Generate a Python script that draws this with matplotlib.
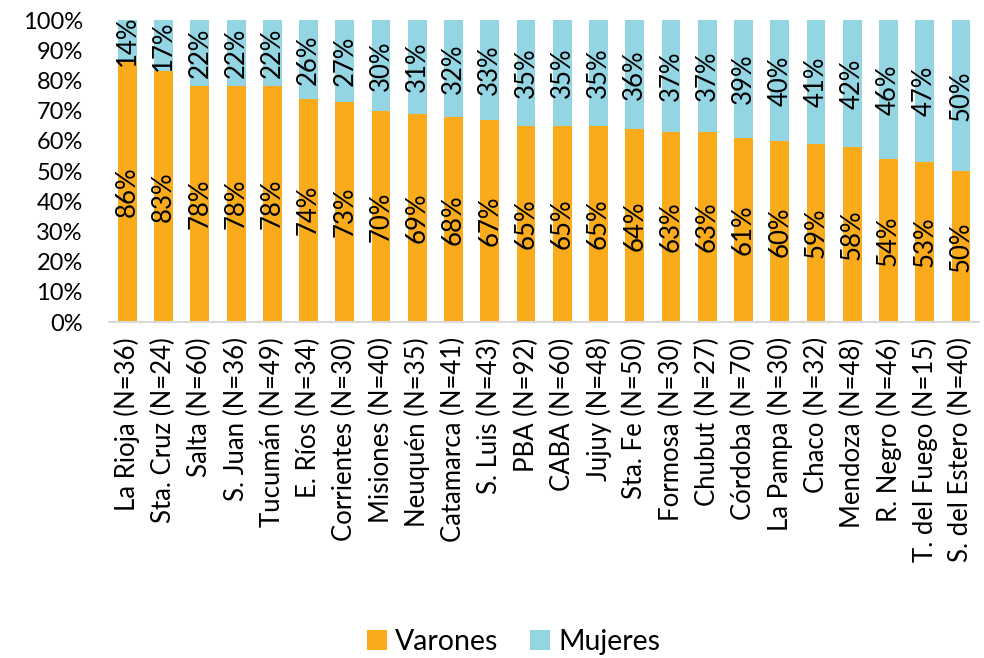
import matplotlib.pyplot as plt
from matplotlib.ticker import PercentFormatter

provincias = ["La Rioja (N=36)", "Sta. Cruz (N=24)", "Salta (N=60)", "S. Juan (N=36)",
              "Tucumán (N=49)", "E. Ríos (N=34)", "Corrientes (N=30)", "Misiones (N=40)",
              "Neuquén (N=35)", "Catamarca (N=41)", "S. Luis (N=43)", "PBA (N=92)",
              "CABA (N=60)", "Jujuy (N=48)", "Sta. Fe (N=50)", "Formosa (N=30)",
              "Chubut (N=27)", "Córdoba (N=70)", "La Pampa (N=30)", "Chaco (N=32)",
              "Mendoza (N=48)", "R. Negro (N=46)", "T. del Fuego (N=15)", "S. del Estero (N=40)"]
varones = [86, 83, 78, 78, 78, 74, 73, 70, 69, 68, 67, 65, 65, 65, 64, 63, 63, 61, 60, 59, 58, 54, 53, 50]
mujeres = [14, 17, 22, 22, 22, 26, 27, 30, 31, 32, 33, 35, 35, 35, 36, 37, 37, 39, 40, 41, 42, 46, 47, 50]

c_var = "#F9AB1C"
c_muj = "#93D5E3"

plt.rcParams['font.family'] = ['Lato', 'DejaVu Sans']

fig = plt.figure(figsize=(9.84, 6.58), dpi=100)
ax = fig.add_axes([0.111, 0.5106, 0.884, 0.459])

x = range(len(provincias))
b1 = ax.bar(x, varones, width=0.52, color=c_var, label="Varones")
b2 = ax.bar(x, mujeres, width=0.52, bottom=varones, color=c_muj, label="Mujeres")

for i in x:
    ax.text(i, varones[i] / 2, f"{varones[i]}%", rotation=90, ha='center', va='center',
            fontsize=18.5, color='black')
    ax.text(i, varones[i] + mujeres[i] / 2, f"{mujeres[i]}%", rotation=90, ha='center',
            va='center', fontsize=18.5, color='black')

ax.set_xlim(-0.5, len(provincias) - 0.5)
ax.set_ylim(0, 100)
ax.set_yticks(range(0, 101, 10))
ax.yaxis.set_major_formatter(PercentFormatter(decimals=0))
ax.set_xticks(list(x))
ax.set_xticklabels(provincias, rotation=90, va='top', ha='center')
ax.tick_params(axis='y', length=0, pad=19, labelsize=17)
ax.tick_params(axis='x', length=0, pad=11, labelsize=18.5)

for s in ['top', 'right', 'left']:
    ax.spines[s].set_visible(False)
ax.spines['bottom'].set_color('#d9d9d9')
ax.spines['bottom'].set_linewidth(1.5)

fig.legend(handles=[b1, b2], loc='center', bbox_to_anchor=(0.522, 0.024), ncol=2,
           frameon=False, fontsize=20.5, handlelength=0.7, handleheight=0.7,
           handletextpad=0.3, columnspacing=1.1)

fig.savefig("out.png", dpi=100)
